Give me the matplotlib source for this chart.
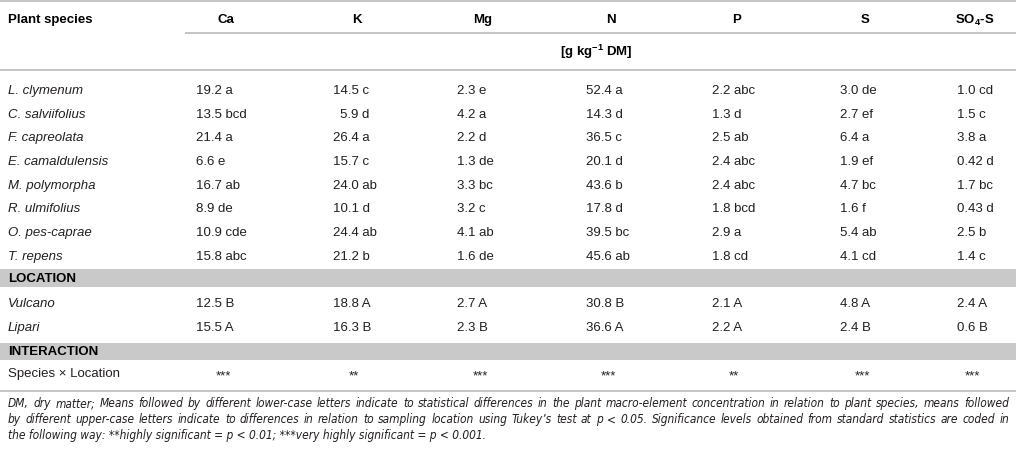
import matplotlib.pyplot as plt
from matplotlib import font_manager
from matplotlib.patches import Rectangle

plt.rcParams['font.family'] = ['Liberation Sans', 'DejaVu Sans']
plt.rcParams['mathtext.fontset'] = 'custom'
plt.rcParams['mathtext.rm'] = 'Liberation Sans'
plt.rcParams['mathtext.bf'] = 'Liberation Sans:bold'
plt.rcParams['mathtext.it'] = 'Liberation Sans:italic'

# table content
species = ['L. clymenum', 'C. salviifolius', 'F. capreolata', 'E. camaldulensis',
           'M. polymorpha', 'R. ulmifolius', 'O. pes-caprae', 'T. repens']
locations = ['Vulcano', 'Lipari']
elements = ['Ca', 'K', 'Mg', 'N', 'P', 'S', r'SO$_\mathbf{4}$-S']
units = r'[g kg$^{\mathbf{-1}}$ DM]'

ca = [19.2, 13.5, 21.4, 6.6, 16.7, 8.9, 10.9, 15.8]
ca_sig = ['a', 'bcd', 'a', 'e', 'ab', 'de', 'cde', 'abc']
k = [14.5, 5.9, 26.4, 15.7, 24.0, 10.1, 24.4, 21.2]
k_sig = ['c', 'd', 'a', 'c', 'ab', 'd', 'ab', 'b']
mg = [2.3, 4.2, 2.2, 1.3, 3.3, 3.2, 4.1, 1.6]
mg_sig = ['e', 'a', 'd', 'de', 'bc', 'c', 'ab', 'de']
n = [52.4, 14.3, 36.5, 20.1, 43.6, 17.8, 39.5, 45.6]
n_sig = ['a', 'd', 'c', 'd', 'b', 'd', 'bc', 'ab']
p = [2.2, 1.3, 2.5, 2.4, 2.4, 1.8, 2.9, 1.8]
p_sig = ['abc', 'd', 'ab', 'abc', 'abc', 'bcd', 'a', 'cd']
s = [3.0, 2.7, 6.4, 1.9, 4.7, 1.6, 5.4, 4.1]
s_sig = ['de', 'ef', 'a', 'ef', 'bc', 'f', 'ab', 'cd']
so4 = [1.0, 1.5, 3.8, 0.42, 1.7, 0.43, 2.5, 1.4]
so4_sig = ['cd', 'c', 'a', 'd', 'bc', 'd', 'b', 'c']

loc_vals = [[12.5, 15.5], [18.8, 16.3], [2.7, 2.3], [30.8, 36.6],
            [2.1, 2.2], [4.8, 2.4], [2.4, 0.6]]
loc_sig = [['B', 'A'], ['A', 'B'], ['A', 'B'], ['B', 'A'],
           ['A', 'A'], ['A', 'B'], ['A', 'B']]
interaction = ['***', '**', '***', '***', '**', '***', '***']

species_vals = [ca, k, mg, n, p, s, so4]
species_sig = [ca_sig, k_sig, mg_sig, n_sig, p_sig, s_sig, so4_sig]

footnote = [
    'DM, dry matter; Means followed by different lower-case letters indicate to statistical '
    'differences in the plant macro-element concentration in relation to plant species, means followed',
    'by different upper-case letters indicate to differences in relation to sampling location using '
    'Tukey\u2019s test at p < 0.05. Significance levels obtained from standard statistics are coded in',
    'the following way: **highly significant = p < 0.01; ***very highly significant = p < 0.001.',
]

# layout (pixels)
W, H = 1016, 452
header_x = [226, 357, 483, 611, 737, 865, 975]
value_x = [196, 333, 457, 586, 712, 840, 957]
line_col = '#c4c4c4'
band_col = '#c9c9c9'
txt_col = '#231f20'
fs = 9.5

# narrow face for the footnote if there is one
names = {f.name for f in font_manager.fontManager.ttflist}
if 'Liberation Sans Narrow' in names:
    foot_font = dict(family=['Liberation Sans Narrow', 'DejaVu Sans'])
else:
    foot_font = dict(family=['DejaVu Sans'], stretch='condensed')

fig = plt.figure(figsize=(W / 100, H / 100), dpi=100)
ax = fig.add_axes([0, 0, 1, 1])
ax.set_xlim(0, W)
ax.set_ylim(H, 0)
ax.axis('off')
renderer = fig.canvas.get_renderer()

# rules and bands
for y, x0 in [(2, 0), (34, 185), (71, 0), (392, 0)]:
    ax.plot([x0, W], [y, y], color=line_col, lw=1.4, solid_capstyle='butt')
ax.add_patch(Rectangle((0, 270), W, 18, color=band_col, lw=0))
ax.add_patch(Rectangle((0, 344), W, 17, color=band_col, lw=0))

# header
ax.text(8, 20, 'Plant species', fontsize=fs, fontweight='bold', color='black', va='center')
for name, x in zip(elements, header_x):
    ax.text(x, 20, name, fontsize=fs, fontweight='bold', color='black', ha='center', va='center')
ax.text(560, 52, units, fontsize=fs, fontweight='bold', color='black', va='center')


def width_of(txt, **kw):
    t = ax.text(0, 0, txt, **kw)
    w = t.get_window_extent(renderer).width
    t.remove()
    return w


digit_w = width_of('0', fontsize=fs)


def cell(x, y, val, sig, pad=False):
    ax.text(x + (digit_w if pad else 0), y, f'{val} {sig}', fontsize=fs,
            color=txt_col, va='center')


# species rows
for i, name in enumerate(species):
    y = 91 + 23.7 * i
    ax.text(8, y, name, fontsize=fs, style='italic', color=txt_col, va='center')
    for j in range(len(elements)):
        val = species_vals[j][i]
        cell(value_x[j], y, val, species_sig[j][i], pad=(j == 1 and val < 10))

# location block
ax.text(8, 279, 'LOCATION', fontsize=fs, fontweight='bold', color='black', va='center')
for i, name in enumerate(locations):
    y = 304 + 24 * i
    ax.text(8, y, name, fontsize=fs, style='italic', color=txt_col, va='center')
    for j in range(len(elements)):
        cell(value_x[j], y, loc_vals[j][i], loc_sig[j][i])

# interaction block
ax.text(8, 352.5, 'INTERACTION', fontsize=fs, fontweight='bold', color='black', va='center')
ax.text(8, 374, 'Species \u00d7 Location', fontsize=fs, color=txt_col, va='center')
for x, stars in zip(header_x, interaction):
    ax.text(x - 3, 376, stars, fontsize=fs, color=txt_col, ha='center', va='center')

# footnote: size so the last line ends near x=548, first two lines justified
x0, x1 = 8, 1009
ffs = 10.0
w3 = width_of(footnote[2], fontsize=ffs, style='italic', **foot_font)
ffs = ffs * 540 / w3
w1 = width_of(footnote[0], fontsize=ffs, style='italic', **foot_font)
if w1 > (x1 - x0) * 0.98:
    ffs = ffs * (x1 - x0) * 0.98 / w1


def justified(line, y):
    words = line.split(' ')
    texts = [ax.text(0, y, w, fontsize=ffs, style='italic', color=txt_col, va='center',
                     **foot_font) for w in words]
    widths = [t.get_window_extent(renderer).width for t in texts]
    gap = (x1 - x0 - sum(widths)) / (len(words) - 1)
    x = x0
    for t, w in zip(texts, widths):
        t.set_x(x)
        x += w + gap


justified(footnote[0], 404)
justified(footnote[1], 420)
ax.text(x0, 436, footnote[2], fontsize=ffs, style='italic', color=txt_col, va='center',
        **foot_font)

fig.savefig('out.png', dpi=100)
